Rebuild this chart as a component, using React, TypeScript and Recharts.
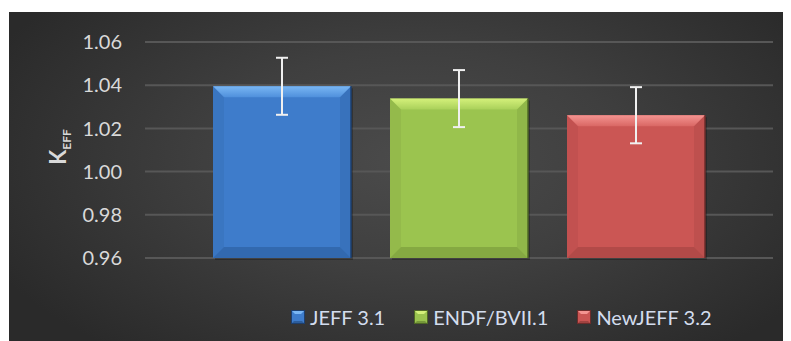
import React from 'react';
import { BarChart, Bar, XAxis, YAxis, CartesianGrid, ErrorBar, Legend } from 'recharts';

const categories = ['Keff'];
const seriesNames = ['JEFF 3.1', 'ENDF/BVII.1', 'NewJEFF 3.2'];
const keffValues = [1.0395, 1.0338, 1.0261];
const keffErrors = [0.0132, 0.0132, 0.013];
const yTicks = [0.96, 0.98, 1.0, 1.02, 1.04, 1.06];

const palettes = [
  { main: '#3e7ccb', light: '#79b6f3', mid: '#4f90dc', dark: '#2c5d9c', edge: '#1d3f6e' },
  { main: '#9bc44f', light: '#d4f07a', mid: '#a9d05a', dark: '#76983a', edge: '#4f6826' },
  { main: '#cb5654', light: '#f49491', mid: '#d96764', dark: '#a14341', edge: '#6e2c2b' },
];

const data = categories.map((c) => {
  const row: any = { name: c };
  seriesNames.forEach((_, i) => {
    row['v' + i] = keffValues[i];
    row['e' + i] = keffErrors[i];
  });
  return row;
});

const FONT = 'Lato, "Open Sans", sans-serif';

function BevelBar(props: any) {
  const { x, y, width, height, pal, id } = props;
  if (!width || !height || height <= 0) return null;
  const b = Math.min(11, width / 4, height / 4);
  return (
    <g>
      <defs>
        <linearGradient id={'top' + id} x1="0" y1="0" x2="0" y2="1">
          <stop offset="0" stopColor={pal.light} />
          <stop offset="1" stopColor={pal.mid} />
        </linearGradient>
      </defs>
      <rect x={x + 2} y={y + 2} width={width} height={height} fill="#000" opacity={0.25} />
      <rect x={x} y={y} width={width} height={height} fill={pal.main} />
      <polygon points={`${x},${y} ${x + width},${y} ${x + width - b},${y + b} ${x + b},${y + b}`} fill={`url(#top${id})`} />
      <polygon points={`${x},${y + height} ${x + width},${y + height} ${x + width - b},${y + height - b} ${x + b},${y + height - b}`} fill={pal.dark} opacity={0.6} />
      <polygon points={`${x},${y} ${x + b},${y + b} ${x + b},${y + height - b} ${x},${y + height}`} fill={pal.dark} opacity={0.2} />
      <polygon points={`${x + width},${y} ${x + width - b},${y + b} ${x + width - b},${y + height - b} ${x + width},${y + height}`} fill={pal.dark} opacity={0.3} />
      <line x1={x + width} y1={y} x2={x + width} y2={y + height} stroke={pal.edge} strokeWidth={1.5} />
    </g>
  );
}

function LegendIcon({ pal }: any) {
  return (
    <svg width={14} height={14} style={{ display: 'block' }}>
      <rect x={0} y={0} width={14} height={14} fill={pal.main} />
      <polygon points="0,0 14,0 10,4 4,4" fill={pal.light} />
      <polygon points="0,14 14,14 11,11 3,11" fill={pal.dark} />
      <rect x={0.5} y={0.5} width={13} height={13} fill="none" stroke={pal.edge} strokeWidth={1} />
    </svg>
  );
}

function CustomLegend() {
  return (
    <div style={{ display: 'flex', alignItems: 'center', fontFamily: FONT, fontSize: 20, color: '#d3ddee' }}>
      {seriesNames.map((n, i) => (
        <div key={n} style={{ display: 'flex', alignItems: 'center', marginRight: i < seriesNames.length - 1 ? 29 : 0 }}>
          <LegendIcon pal={palettes[i]} />
          <span style={{ marginLeft: 5, whiteSpace: 'nowrap' }}>{n}</span>
        </div>
      ))}
    </div>
  );
}

function YLabel(props: any) {
  const vb = props.viewBox || { x: 0, y: 0, width: 0, height: 0 };
  const cx = vb.x + 57;
  const cy = vb.y + vb.height / 2 - 3;
  return (
    <text x={cx} y={cy} transform={`rotate(-90, ${cx}, ${cy})`} textAnchor="middle" fill="#d9d9d9" fontFamily={FONT} fontWeight="bold">
      <tspan fontSize={22}>K</tspan>
      <tspan fontSize={12} dy={5}>EFF</tspan>
    </text>
  );
}

export default function App() {
  return (
    <div
      style={{
        marginLeft: 1,
        marginTop: 4,
        width: 782,
        height: 329,
        background: 'radial-gradient(ellipse 60% 75% at 52% 45%, #4b4b4b 0%, #3f3f3f 45%, #2a2a2a 100%)',
      }}
    >
      <BarChart
        width={782}
        height={329}
        data={data}
        margin={{ top: 30, right: 18, bottom: 59, left: 0 }}
        barGap={39}
        barCategoryGap={68}
      >
        <CartesianGrid horizontal vertical={false} stroke="#575757" strokeWidth={2} />
        <XAxis dataKey="name" hide />
        <YAxis
          width={136}
          domain={[0.96, 1.06]}
          ticks={yTicks}
          tickFormatter={(v: number) => v.toFixed(2)}
          axisLine={false}
          tickLine={false}
          tickSize={6}
          tickMargin={17}
          tick={{ fill: '#d9d9d9', fontSize: 20, fontFamily: FONT }}
          interval={0}
          label={{ content: YLabel }}
        />
        {seriesNames.map((n, i) => (
          <Bar
            key={n}
            dataKey={'v' + i}
            name={n}
            fill={palettes[i].main}
            isAnimationActive={false}
            shape={(p: any) => <BevelBar {...p} pal={palettes[i]} id={'b' + i} />}
          >
            <ErrorBar dataKey={'e' + i} width={6} stroke="#f0f0f0" strokeWidth={2} direction="y" />
          </Bar>
        ))}
        <Legend
          content={<CustomLegend />}
          wrapperStyle={{ position: 'absolute', left: 282, top: 293, width: 'auto' }}
        />
      </BarChart>
    </div>
  );
}
